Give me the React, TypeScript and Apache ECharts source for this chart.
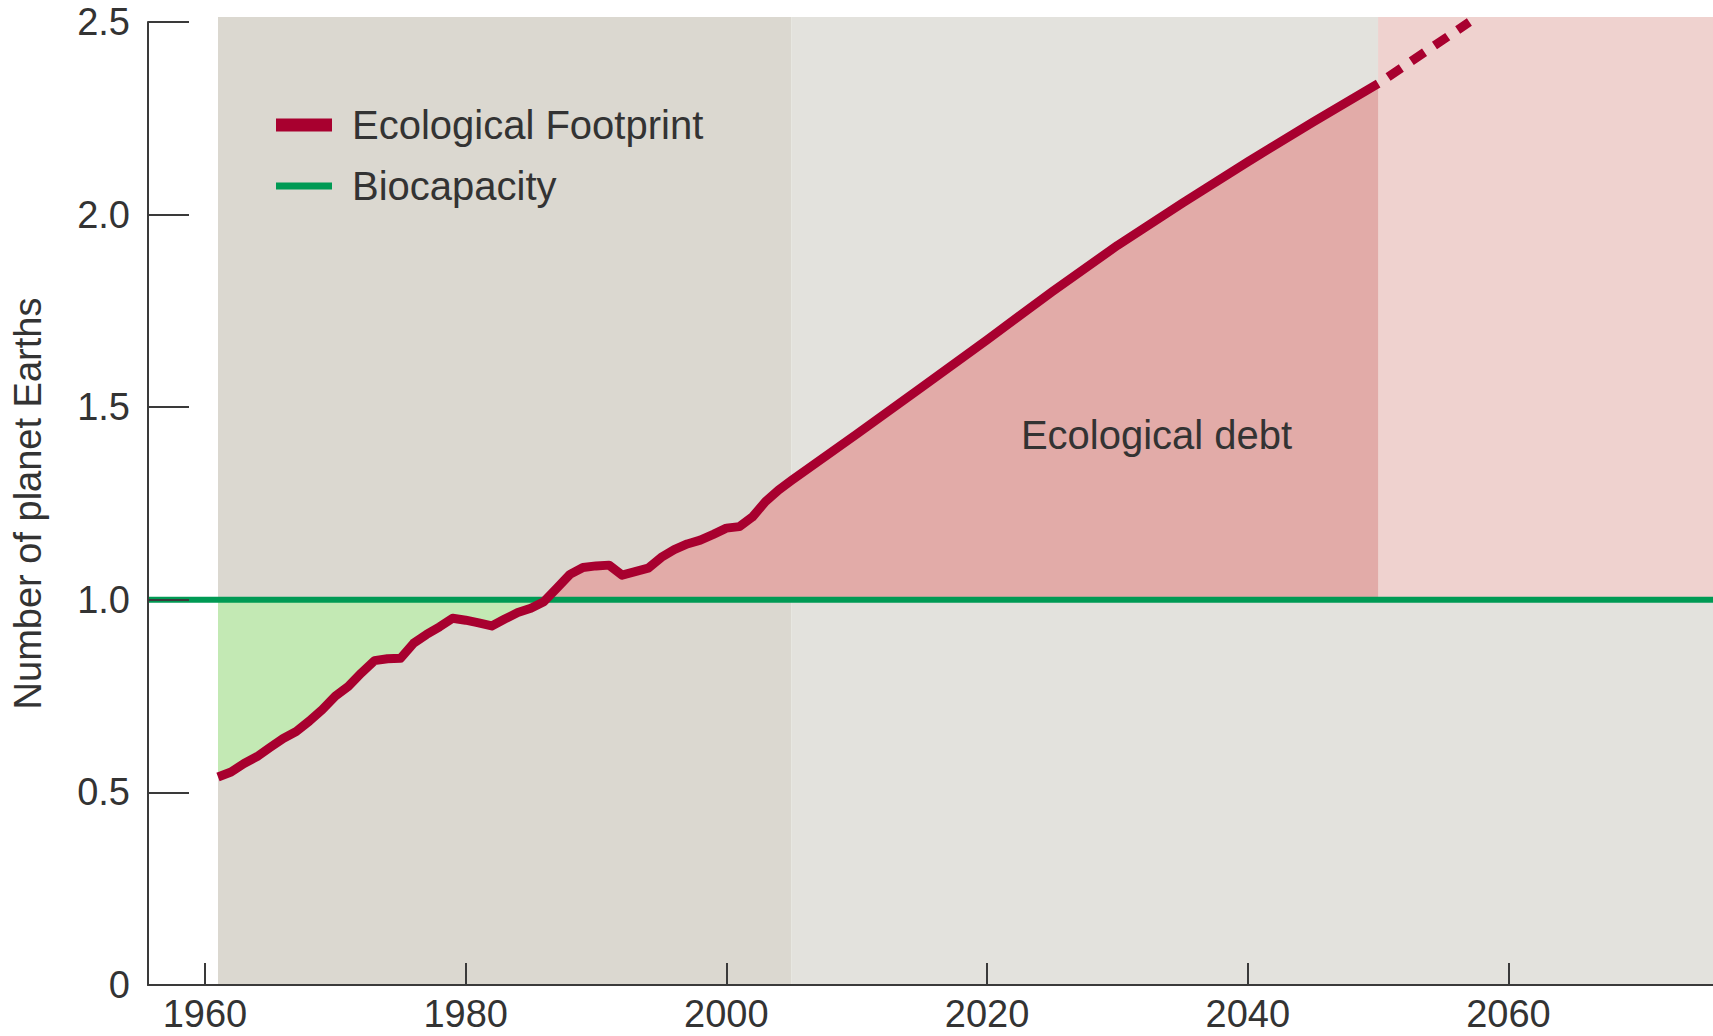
import React, { useEffect, useRef } from "react";
import * as echarts from "echarts";

// ---- data ----
const HIST_YEARS = [
  1961, 1962, 1963, 1964, 1965, 1966, 1967, 1968, 1969, 1970,
  1971, 1972, 1973, 1974, 1975, 1976, 1977, 1978, 1979, 1980,
  1981, 1982, 1983, 1984, 1985, 1986, 1987, 1988, 1989, 1990,
  1991, 1992, 1993, 1994, 1995, 1996, 1997, 1998, 1999, 2000,
  2001, 2002, 2003, 2004, 2005,
];
const FOOTPRINT_HIST = [
  0.54, 0.553, 0.575, 0.593, 0.617, 0.64, 0.658, 0.685, 0.715, 0.75,
  0.775, 0.81, 0.842, 0.847, 0.848, 0.887, 0.91, 0.93, 0.952, 0.947,
  0.94, 0.932, 0.95, 0.967, 0.978, 0.995, 1.03, 1.066, 1.084, 1.088,
  1.09, 1.064, 1.073, 1.082, 1.11, 1.13, 1.145, 1.155, 1.17, 1.186,
  1.19, 1.215, 1.255, 1.285, 1.31,
];
const PROJ_YEARS = [2010, 2015, 2020, 2025, 2030, 2035, 2040, 2045, 2050];
const FOOTPRINT_PROJ = [1.43, 1.552, 1.675, 1.8, 1.92, 2.03, 2.137, 2.24, 2.34];
const DASH_YEARS = [2050, 2057];
const FOOTPRINT_DASH = [2.34, 2.5];
const BIOCAPACITY = [1.0, 1.0];

const X_MIN = 1955.63;
const X_MAX = 2075.69;
const X_TICKS = [1960, 1980, 2000, 2020, 2040, 2060];
const Y_MAX = 2.5;
const Y_BG_TOP = 2.513;
const HIST_START = 1961;
const HIST_END = 2005;
const PROJ_END = 2050;
const DEBT_LABEL_POS = [2033, 1.428];

// ---- colours ----
const RED = "#a8002f";
const GREEN = "#009a54";
const DEBT = "#e2aba8";
const SURPLUS = "#c3e9b4";
const BG_HIST = "#dbd8d0";
const BG_PROJ = "#e3e2dd";
const BG_PINK = "#efd2cf";
const TEXT = "#333333";
const AXIS = "#3a3a3a";
const FONT = "'Liberation Sans', Arial, Helvetica, sans-serif";

export default function App() {
  const ref = useRef<HTMLDivElement>(null);

  useEffect(() => {
    if (!ref.current) return;
    const chart = echarts.init(ref.current, undefined, { renderer: "svg" });

    const years = HIST_YEARS.concat(PROJ_YEARS);
    const fp = FOOTPRINT_HIST.concat(FOOTPRINT_PROJ);
    const bio = BIOCAPACITY[0];
    const lineData = years.map((y, i) => [y, fp[i]]);
    const greenData = lineData.map(([x, v]) => [x, Math.min(v, bio)]);
    const redData = lineData.map(([x, v]) => [x, Math.max(v, bio)]);
    const dashData = DASH_YEARS.map((y, i) => [y, FOOTPRINT_DASH[i]]);
    const bioData = [
      [X_MIN, BIOCAPACITY[0]],
      [X_MAX, BIOCAPACITY[1]],
    ];

    const legendText = { fontSize: 40, color: TEXT, fontFamily: FONT, padding: [0, 0, 0, 15] };

    const option: any = {
      animation: false,
      backgroundColor: "#ffffff",
      textStyle: { fontFamily: FONT },
      grid: [
        { left: 148, right: 0, top: 22, bottom: 51 },
        { left: 148, right: 0, top: 17, bottom: 51 },
      ],
      legend: [
        {
          data: ["Ecological Footprint"],
          left: 276,
          top: 105,
          padding: 0,
          icon: "rect",
          itemWidth: 56,
          itemHeight: 13,
          selectedMode: false,
          textStyle: legendText,
        },
        {
          data: ["Biocapacity"],
          left: 276,
          top: 166,
          padding: 0,
          icon: "rect",
          itemWidth: 56,
          itemHeight: 7,
          selectedMode: false,
          textStyle: legendText,
        },
      ],
      xAxis: [
        {
          type: "value",
          gridIndex: 0,
          min: X_MIN,
          max: X_MAX,
          z: 10,
          axisLine: { show: true, lineStyle: { color: AXIS, width: 2 } },
          axisTick: {
            show: true,
            inside: true,
            length: 22,
            customValues: X_TICKS,
            lineStyle: { color: AXIS, width: 2 },
          },
          axisLabel: {
            customValues: X_TICKS,
            fontSize: 38,
            lineHeight: 38,
            color: TEXT,
            margin: 10,
            fontFamily: FONT,
            formatter: (v: number) => String(v),
          },
          splitLine: { show: false },
        },
        {
          type: "value",
          gridIndex: 1,
          min: X_MIN,
          max: X_MAX,
          show: false,
        },
      ],
      yAxis: [
        {
          type: "value",
          gridIndex: 0,
          min: 0,
          max: Y_MAX,
          interval: 0.5,
          z: 10,
          name: "Number of planet Earths",
          nameLocation: "middle",
          nameGap: 101,
          nameTextStyle: { fontSize: 38, color: TEXT, fontFamily: FONT },
          axisLine: { show: true, lineStyle: { color: AXIS, width: 2 } },
          axisTick: { show: true, inside: true, length: 41, lineStyle: { color: AXIS, width: 2 } },
          axisLabel: {
            fontSize: 38,
            color: TEXT,
            margin: 18,
            fontFamily: FONT,
            formatter: (v: number) => (v === 0 ? "0" : v.toFixed(1)),
          },
          splitLine: { show: false },
        },
        {
          type: "value",
          gridIndex: 1,
          min: 0,
          max: Y_BG_TOP,
          show: false,
        },
      ],
      series: [
        {
          name: "bg",
          type: "line",
          xAxisIndex: 1,
          yAxisIndex: 1,
          data: [[X_MIN, 0]],
          symbol: "none",
          silent: true,
          lineStyle: { width: 0, opacity: 0 },
          z: 0,
          markArea: {
            silent: true,
            z: 0,
            data: [
              [
                { xAxis: HIST_START, yAxis: 0, itemStyle: { color: BG_HIST } },
                { xAxis: HIST_END, yAxis: Y_BG_TOP },
              ],
              [
                { xAxis: HIST_END, yAxis: 0, itemStyle: { color: BG_PROJ } },
                { xAxis: X_MAX, yAxis: Y_BG_TOP },
              ],
              [
                { xAxis: PROJ_END, yAxis: bio, itemStyle: { color: BG_PINK } },
                { xAxis: X_MAX, yAxis: Y_BG_TOP },
              ],
            ],
          },
        },
        {
          name: "surplus",
          type: "line",
          data: greenData,
          symbol: "none",
          silent: true,
          lineStyle: { width: 0, opacity: 0 },
          areaStyle: { color: SURPLUS, opacity: 1, origin: bio },
          z: 2,
        },
        {
          name: "debt",
          type: "line",
          data: redData,
          symbol: "none",
          silent: true,
          lineStyle: { width: 0, opacity: 0 },
          areaStyle: { color: DEBT, opacity: 1, origin: bio },
          z: 2,
          markPoint: {
            silent: true,
            symbol: "circle",
            symbolSize: 0,
            label: {
              show: true,
              position: "inside",
              formatter: "Ecological debt",
              fontSize: 40,
              color: TEXT,
              fontFamily: FONT,
            },
            data: [{ coord: DEBT_LABEL_POS }],
          },
        },
        {
          name: "Biocapacity",
          type: "line",
          data: bioData,
          symbol: "none",
          silent: true,
          itemStyle: { color: GREEN },
          lineStyle: { color: GREEN, width: 6 },
          z: 3,
        },
        {
          name: "Ecological Footprint",
          type: "line",
          data: lineData,
          symbol: "none",
          silent: true,
          itemStyle: { color: RED },
          lineStyle: { color: RED, width: 9, join: "round" },
          z: 4,
        },
        {
          name: "Ecological Footprint",
          type: "line",
          data: dashData,
          symbol: "none",
          silent: true,
          itemStyle: { color: RED },
          lineStyle: { color: RED, width: 9, type: [16, 12], dashOffset: 16, cap: "butt" },
          z: 4,
        },
      ],
    };

    chart.setOption(option);
    return () => chart.dispose();
  }, []);

  return (
    <div
      ref={ref}
      style={{ position: "fixed", left: 0, top: 0, width: 1713, height: 1036, background: "#fff" }}
    />
  );
}
